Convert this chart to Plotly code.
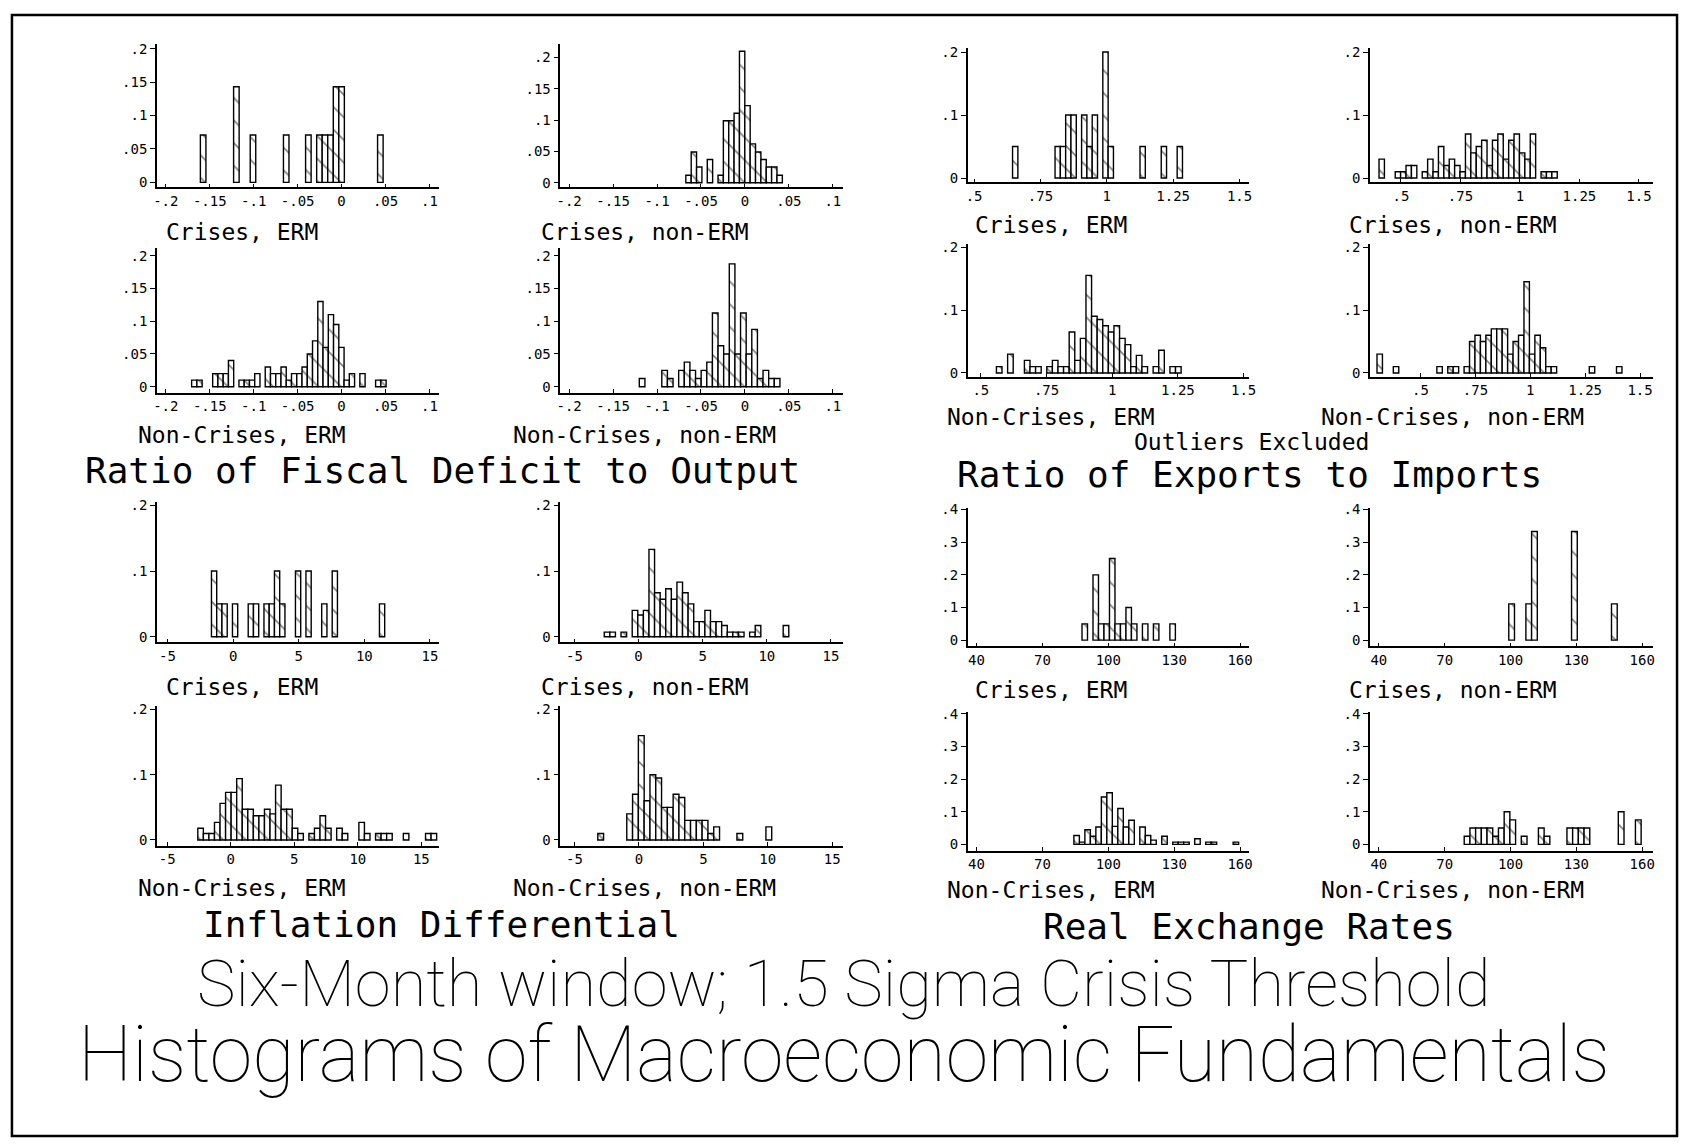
import plotly.graph_objects as go

# ---------------- DATA (bin start, bin width, bar heights = fraction) ----------------
# Ratio of fiscal deficit to output
fis_c_erm_start, fis_c_erm_width = -0.1575, 0.0063
fis_c_erm = [0.071, 0, 0, 0, 0, 0, 0.143, 0, 0, 0.071, 0, 0, 0, 0, 0, 0.071, 0, 0, 0,
             0.071, 0, 0.071, 0.071, 0.071, 0.143, 0.143, 0, 0, 0, 0, 0, 0, 0.071]
fis_c_nerm_start, fis_c_nerm_width = -0.0642, 0.0061
fis_c_nerm = [0.012, 0.049, 0.025, 0, 0.037, 0, 0.012, 0.099, 0.099, 0.111, 0.21, 0.123,
              0.062, 0.049, 0.037, 0.025, 0.025, 0.012]
fis_nc_erm_start, fis_nc_erm_width = -0.1676, 0.00598
fis_nc_erm = [0.01, 0.01, 0, 0, 0.02, 0.02, 0.02, 0.04, 0, 0.01,
              0.01, 0.01, 0.02, 0, 0.03, 0.02, 0.02, 0.03, 0.01, 0.02,
              0.02, 0.03, 0.05, 0.07, 0.13, 0.06, 0.11, 0.095, 0.06, 0.01,
              0.02, 0, 0.02, 0, 0, 0.01, 0.01]
fis_nc_nerm_start, fis_nc_nerm_width = -0.117, 0.0064
fis_nc_nerm = [0.0125, 0, 0, 0, 0.025, 0.0125, 0, 0.025, 0.0375, 0.025, 0.0125, 0.025,
               0.0375, 0.1125, 0.0625, 0.05, 0.1875, 0.05, 0.1125, 0.05, 0.0875, 0.0125,
               0.025, 0.0125, 0.0125]

# Ratio of exports to imports
exp_c_erm_start, exp_c_erm_width = 0.655, 0.02
exp_c_erm = [0.05, 0, 0, 0, 0, 0, 0, 0, 0.05, 0.05, 0.1, 0.1, 0, 0.1, 0.05, 0.1, 0, 0.2,
             0.05, 0, 0, 0, 0, 0, 0.05, 0, 0, 0, 0.05, 0, 0, 0.05]
exp_c_nerm_start, exp_c_nerm_width = 0.419, 0.0227
exp_c_nerm = [0.03, 0, 0, 0.01, 0.01, 0.02, 0.02, 0, 0.01, 0.03, 0.01, 0.05, 0.02, 0.03,
              0.02, 0.01, 0.07, 0.04, 0.05, 0.06, 0.02, 0.06, 0.07, 0.03, 0.06, 0.07,
              0.04, 0.03, 0.07, 0, 0.01, 0.01, 0.01]
exp_nc_erm_start, exp_nc_erm_width = 0.570, 0.0213
exp_nc_erm = [0.01, 0, 0.03, 0, 0, 0.02, 0.01, 0.01, 0, 0.01,
              0.02, 0.01, 0.01, 0.065, 0.02, 0.055, 0.155, 0.09, 0.085, 0.075,
              0.065, 0.075, 0.055, 0.045, 0.01, 0.028, 0.01, 0, 0.01, 0.036,
              0, 0.01, 0.01]
exp_nc_nerm_start, exp_nc_nerm_width = 0.314, 0.0248
exp_nc_nerm = [0.03, 0, 0, 0.01, 0, 0, 0, 0, 0, 0, 0,
               0.01, 0, 0.01, 0.01, 0, 0.01, 0.05, 0.06, 0.05, 0.06,
               0.07, 0.07, 0.07, 0.03, 0.05, 0.06, 0.145, 0.03, 0.06, 0.04,
               0.01, 0.01, 0, 0, 0, 0, 0, 0,
               0.01, 0, 0, 0, 0, 0.01]

# Inflation differential
inf_c_erm_start, inf_c_erm_width = -1.45, 0.4
inf_c_erm = [0.1, 0.05, 0.05, 0, 0.05, 0, 0, 0.05, 0.05, 0,
             0.05, 0.05, 0.1, 0.05, 0, 0, 0.1, 0, 0.1, 0,
             0, 0.05, 0, 0.1, 0, 0, 0, 0, 0, 0, 0, 0, 0.05]
inf_c_nerm_start, inf_c_nerm_width = -2.46, 0.436
inf_c_nerm = [0.007, 0.007, 0, 0.007, 0, 0.04, 0.033, 0.04, 0.133, 0.067, 0.057, 0.073,
              0.057, 0.083, 0.067, 0.05, 0.023, 0.023, 0.04, 0.023, 0.023, 0.017, 0.007,
              0.007, 0.007, 0, 0.007, 0.017, 0, 0, 0, 0, 0.017]
inf_nc_erm_start, inf_nc_erm_width = -2.37, 0.437
inf_nc_erm = [0.018, 0.01, 0.01, 0.027, 0.056, 0.073, 0.073, 0.094, 0.047, 0.047,
              0.037, 0.037, 0.047, 0.04, 0.084, 0.047, 0.047, 0.018, 0.01, 0,
              0.01, 0.018, 0.037, 0.018, 0, 0.018, 0.01, 0, 0, 0.027,
              0.01, 0, 0.01, 0.01, 0.01, 0, 0, 0.01, 0, 0,
              0, 0.01, 0.01]
inf_nc_nerm_start, inf_nc_nerm_width = -2.97, 0.45
inf_nc_nerm = [0.01, 0, 0, 0, 0, 0.04, 0.07, 0.16, 0.06, 0.10, 0.095, 0.05, 0.05, 0.07,
               0.065, 0.03, 0.03, 0.03, 0.03, 0.01, 0.02, 0, 0, 0, 0.01, 0, 0, 0, 0, 0.02]

# Real exchange rates
rer_c_erm_start, rer_c_erm_width = 89.3, 2.5
rer_c_erm = [0.05, 0, 0.2, 0.05, 0.05, 0.25, 0.05, 0.05, 0.1, 0.05, 0, 0.05, 0, 0.05, 0, 0, 0.05]
rer_c_nerm_start, rer_c_nerm_width = 100.5, 2.6
rer_c_nerm = [0.111, 0, 0, 0.111, 0.333, 0, 0, 0, 0, 0, 0, 0.333, 0, 0, 0, 0, 0, 0, 0.111]
rer_nc_erm_start, rer_nc_erm_width = 85.6, 2.5
rer_nc_erm = [0.027, 0.007, 0.045, 0.025, 0.053, 0.145, 0.158, 0.055, 0.11, 0.053, 0.074, 0,
              0.053, 0.027, 0.013, 0, 0.025, 0, 0.007, 0.007, 0.007, 0, 0.017, 0, 0.007,
              0.007, 0, 0, 0, 0.007]
rer_nc_nerm_start, rer_nc_nerm_width = 80.2, 2.6
rer_nc_nerm = [0.025, 0.05, 0.05, 0.05, 0.05, 0.025, 0.05, 0.1, 0.075, 0, 0.025, 0, 0,
               0.05, 0.025, 0, 0, 0, 0.05, 0.05, 0.05, 0.05, 0, 0, 0, 0, 0, 0.1, 0, 0, 0.075]

# Ticks
fis_xticks = [-0.2, -0.15, -0.1, -0.05, 0, 0.05, 0.1]
fis_xlabels = ["-.2", "-.15", "-.1", "-.05", "0", ".05", ".1"]
fis_yticks = [0, 0.05, 0.1, 0.15, 0.2]
fis_ylabels = ["0", ".05", ".1", ".15", ".2"]
exp_xticks = [0.5, 0.75, 1, 1.25, 1.5]
exp_xlabels = [".5", ".75", "1", "1.25", "1.5"]
exp_yticks = [0, 0.1, 0.2]
exp_ylabels = ["0", ".1", ".2"]
inf_xticks = [-5, 0, 5, 10, 15]
inf_xlabels = ["-5", "0", "5", "10", "15"]
inf_yticks = [0, 0.1, 0.2]
inf_ylabels = ["0", ".1", ".2"]
rer_xticks = [40, 70, 100, 130, 160]
rer_xlabels = ["40", "70", "100", "130", "160"]
rer_yticks = [0, 0.1, 0.2, 0.3, 0.4]
rer_ylabels = ["0", ".1", ".2", ".3", ".4"]

panel_labels = ["Crises, ERM", "Crises, non-ERM", "Non-Crises, ERM", "Non-Crises, non-ERM"]
section_titles = ["Ratio of Fiscal Deficit to Output", "Ratio of Exports to Imports",
                  "Inflation Differential", "Real Exchange Rates"]
note_text = "Outliers Excluded"
subtitle_text = "Six-Month window; 1.5 Sigma Crisis Threshold"
title_text = "Histograms of Macroeconomic Fundamentals"

# ---------------- LAYOUT GEOMETRY (pixels) ----------------
W, H = 1691, 1148
COLS = {1: (154, 438), 2: (560, 844), 3: (970, 1253), 4: (1375, 1660)}
LABEL_CX = {1: 240, 2: 645, 3: 1054, 4: 1458}
ROWS = {"fa": (38, 183), "fb": (244, 390), "ea": (42, 178), "eb": (240, 374),
        "ia": (500, 642), "ib": (706, 847), "ra": (506, 646), "rb": (712, 852)}
LABEL_Y = {"fa": 228, "fb": 433, "ea": 221, "eb": 415, "ia": 687, "ib": 890, "ra": 690, "rb": 892}

fis_t = (fis_xticks, fis_xlabels, fis_yticks, fis_ylabels)
exp_t = (exp_xticks, exp_xlabels, exp_yticks, exp_ylabels)
inf_t = (inf_xticks, inf_xlabels, inf_yticks, inf_ylabels)
rer_t = (rer_xticks, rer_xlabels, rer_yticks, rer_ylabels)

panels = [
    (fis_c_erm_start, fis_c_erm_width, fis_c_erm, 1, "fa", [-0.21, 0.111], [-0.0075, 0.2075], fis_t, 0),
    (fis_c_nerm_start, fis_c_nerm_width, fis_c_nerm, 2, "fa", [-0.21, 0.111], [-0.0075, 0.222], fis_t, 1),
    (fis_nc_erm_start, fis_nc_erm_width, fis_nc_erm, 1, "fb", [-0.21, 0.111], [-0.009, 0.212], fis_t, 2),
    (fis_nc_nerm_start, fis_nc_nerm_width, fis_nc_nerm, 2, "fb", [-0.21, 0.111], [-0.009, 0.212], fis_t, 3),
    (exp_c_erm_start, exp_c_erm_width, exp_c_erm, 3, "ea", [0.476, 1.535], [-0.007, 0.207], exp_t, 0),
    (exp_c_nerm_start, exp_c_nerm_width, exp_c_nerm, 4, "ea", [0.37, 1.56], [-0.007, 0.207], exp_t, 1),
    (exp_nc_erm_start, exp_nc_erm_width, exp_nc_erm, 3, "eb", [0.45, 1.52], [-0.006, 0.205], exp_t, 2),
    (exp_nc_nerm_start, exp_nc_nerm_width, exp_nc_nerm, 4, "eb", [0.27, 1.56], [-0.006, 0.205], exp_t, 3),
    (inf_c_erm_start, inf_c_erm_width, inf_c_erm, 1, "ia", [-5.8, 15.7], [-0.0087, 0.2056], inf_t, 0),
    (inf_c_nerm_start, inf_c_nerm_width, inf_c_nerm, 2, "ia", [-6.1, 15.9], [-0.0087, 0.2056], inf_t, 1),
    (inf_nc_erm_start, inf_nc_erm_width, inf_nc_erm, 1, "ib", [-5.8, 16.4], [-0.0087, 0.2056], inf_t, 2),
    (inf_nc_nerm_start, inf_nc_nerm_width, inf_nc_nerm, 2, "ib", [-6.1, 15.8], [-0.0087, 0.2056], inf_t, 3),
    (rer_c_erm_start, rer_c_erm_width, rer_c_erm, 3, "ra", [36, 164], [-0.019, 0.406], rer_t, 0),
    (rer_c_nerm_start, rer_c_nerm_width, rer_c_nerm, 4, "ra", [36, 165], [-0.019, 0.406], rer_t, 1),
    (rer_nc_erm_start, rer_nc_erm_width, rer_nc_erm, 3, "rb", [36, 164], [-0.019, 0.406], rer_t, 2),
    (rer_nc_nerm_start, rer_nc_nerm_width, rer_nc_nerm, 4, "rb", [36, 165], [-0.019, 0.406], rer_t, 3),
]

MONO = "DejaVu Sans Mono"
fig = go.Figure()
layout = dict(width=W, height=H, margin=dict(l=0, r=0, t=0, b=0),
              paper_bgcolor="white", plot_bgcolor="white", showlegend=False,
              font=dict(family=MONO, color="black"))
annotations = []

for i, (start, width, heights, col, row, xr, yr, ticks, lab) in enumerate(panels, start=1):
    xs = [start + k * width for k, h in enumerate(heights) if h > 0]
    ys = [h for h in heights if h > 0]
    xa = "x" if i == 1 else f"x{i}"
    ya = "y" if i == 1 else f"y{i}"
    fig.add_trace(go.Bar(
        x=xs, y=ys, width=width, xaxis=xa, yaxis=ya, hoverinfo="skip",
        marker=dict(color="white", line=dict(color="black", width=1.4),
                    pattern=dict(shape="\\", size=16, solidity=0.1, fgcolor="black",
                                 fillmode="overlay")),
    ))
    L, R = COLS[col]
    T, B = ROWS[row]
    xt, xl, yt, yl = ticks
    axfont = dict(family=MONO, size=14, color="black")
    layout["xaxis" if i == 1 else f"xaxis{i}"] = dict(
        domain=[L / W, R / W], anchor=ya, range=xr, tickvals=xt, ticktext=xl,
        showline=True, linecolor="black", linewidth=1.6, ticks="inside", ticklen=4,
        tickcolor="black", showgrid=False, zeroline=False, tickfont=axfont, fixedrange=True)
    layout["yaxis" if i == 1 else f"yaxis{i}"] = dict(
        domain=[1 - B / H, 1 - T / H], anchor=xa, range=yr, tickvals=yt, ticktext=yl,
        showline=True, linecolor="black", linewidth=1.6, ticks="outside", ticklen=5,
        tickcolor="black", showgrid=False, zeroline=False, tickfont=axfont, fixedrange=True)
    annotations.append(dict(text=panel_labels[lab], x=LABEL_CX[col] / W, y=1 - LABEL_Y[row] / H,
                            xref="paper", yref="paper", xanchor="center", yanchor="middle",
                            showarrow=False, font=dict(family=MONO, size=23, color="black")))

# Section titles
for txt, cx, cy in [(section_titles[0], 441, 469), (section_titles[1], 1254, 473),
                    (section_titles[2], 440, 927), (section_titles[3], 1253, 929)]:
    annotations.append(dict(text=txt, x=cx / W, y=1 - cy / H, xref="paper", yref="paper",
                            xanchor="center", yanchor="middle", showarrow=False,
                            font=dict(family=MONO, size=36, color="black")))
annotations.append(dict(text=note_text, x=1256 / W, y=1 - 440 / H, xref="paper", yref="paper",
                        xanchor="center", yanchor="middle", showarrow=False,
                        font=dict(family=MONO, size=23, color="black")))
annotations.append(dict(text=subtitle_text, x=845 / W, y=1 - 987 / H, xref="paper", yref="paper",
                        xanchor="center", yanchor="middle", showarrow=False,
                        font=dict(family="Roboto", size=65, color="black", weight=100)))
annotations.append(dict(text=title_text, x=845 / W, y=1 - 1058 / H, xref="paper", yref="paper",
                        xanchor="center", yanchor="middle", showarrow=False,
                        font=dict(family="Roboto", size=77, color="black", weight=100)))

layout["annotations"] = annotations
layout["shapes"] = [dict(type="rect", xref="paper", yref="paper",
                         x0=8 / W, x1=1684 / W, y0=1 - 1140 / H, y1=1 - 9 / H,
                         line=dict(color="black", width=2.5))]
fig.update_layout(**layout)
fig.write_html("out.html", config={"displayModeBar": False},
               post_script="document.body.style.margin='0';document.body.style.overflow='hidden';")
